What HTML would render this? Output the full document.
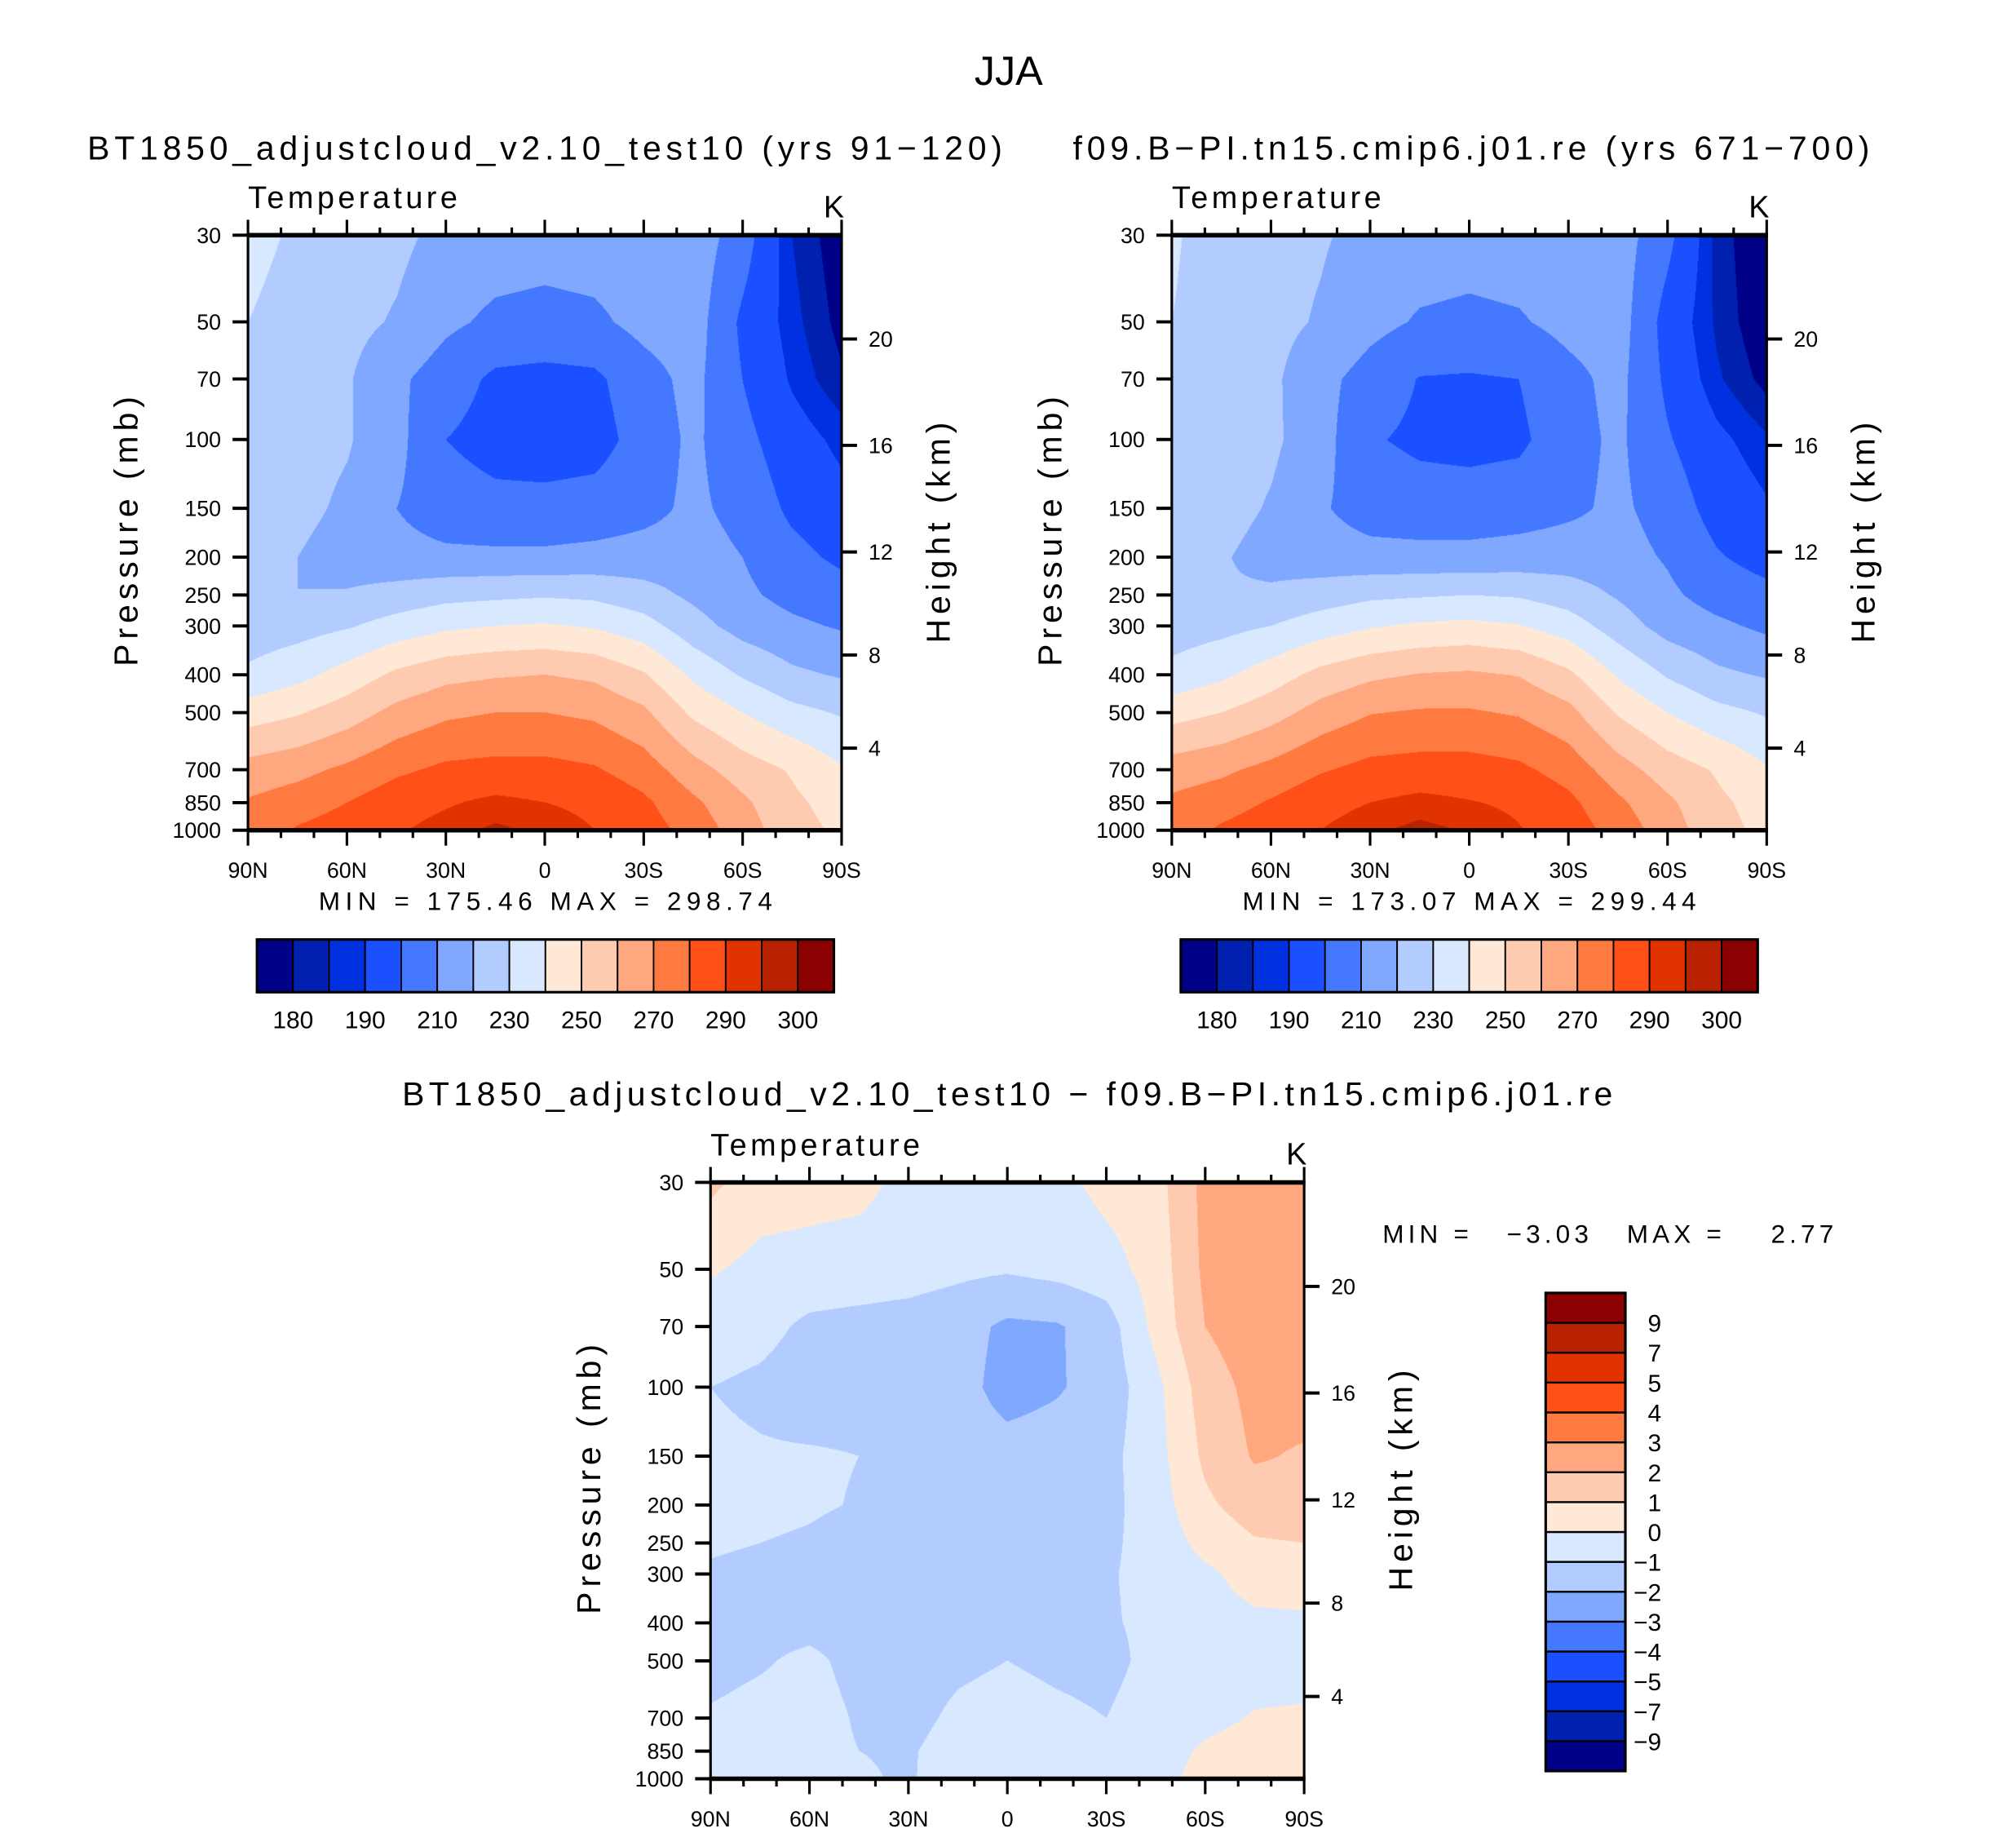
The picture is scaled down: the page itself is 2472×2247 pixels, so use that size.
<!DOCTYPE html>
<html><head><meta charset="utf-8"><style>
html,body{margin:0;padding:0;background:#fff;}
#page{position:relative;width:2472px;height:2247px;overflow:hidden;background:#fff;}
#inner{position:absolute;left:0;top:0;width:1569px;height:1426px;transform:scale(1.5755);transform-origin:0 0;}
canvas{position:absolute;}
svg{position:absolute;left:0;top:0;}
text{font-family:"Liberation Sans",sans-serif;fill:#000;}
</style></head><body>
<div id="page">
<div id="inner">
<canvas id="cvL" width="740" height="742" style="left:193px;top:183px;width:462px;height:463px"></canvas>
<canvas id="cvR" width="740" height="742" style="left:912px;top:183px;width:463px;height:463px"></canvas>
<canvas id="cvD" width="740" height="742" style="left:553px;top:920px;width:462px;height:464px"></canvas>
<svg id="ov" width="1569" height="1426" viewBox="0 0 1569 1426">
<text x="785" y="66" font-size="32" text-anchor="middle">JJA</text>
<text x="68" y="124" font-size="26" textLength="712">BT1850_adjustcloud_v2.10_test10 (yrs 91−120)</text>
<text x="835" y="124" font-size="26" textLength="620">f09.B−PI.tn15.cmip6.j01.re (yrs 671−700)</text>
<text x="313" y="860" font-size="26" textLength="942">BT1850_adjustcloud_v2.10_test10 − f09.B−PI.tn15.cmip6.j01.re</text>
<text x="248" y="708" font-size="20" textLength="353">MIN = 175.46  MAX = 298.74</text>
<text x="967" y="708" font-size="20" textLength="353">MIN = 173.07  MAX = 299.44</text>
<text x="1076" y="967" font-size="20" textLength="351" xml:space="preserve">MIN =   −3.03   MAX =    2.77</text>
</svg>
</div></div>
<script>
const lats = [90,75,60,45,30,15,0,-15,-30,-45,-60,-75,-90];
const pLevels = [30,50,70,100,150,200,250,300,400,500,700,850,1000];
const tempLevels = [180,185,190,200,210,220,230,240,250,260,270,280,290,295,300];
const tempTickLabels = ['180','190','210','230','250','270','290','300'];
const diffLevels = [-9,-7,-5,-4,-3,-2,-1,0,1,2,3,4,5,7,9];
const diffTickLabels = ['−9','−7','−5','−4','−3','−2','−1','0','1','2','3','4','5','7','9'];
const latTickLabels = ['90N','60N','30N','0','30S','60S','90S'];
const pressureTicks = [30,50,70,100,150,200,250,300,400,500,700,850,1000];
const heightTicks = [4,8,12,16,20];
const heightTickPressures = [616.4,356.0,194.0,103.5,55.3];
const palette = ['#000088','#0020b0','#0030e0','#1a50ff','#4478ff','#80a8ff','#b3ccff','#d8e8ff','#ffe8d6','#ffcbb0','#ffa880','#ff7a40','#ff5018','#e03300','#b82200','#8b0000'];

const fieldLeft = [
[233,228.5,224,222.5,217,215,214,215,216,216,205,185,176],
[230,226,223,219,212,208,207,208,213,215,198,187,178],
[227,225,221,212,205,198,197,198,206,213,200,189,181],
[226,224,221,213,200,196,195,196,204,212,203,194,188],
[225,223,218,210,205,203,203,204,207,212,207,198,193],
[223,220,215,213,212,212,212,213,214,214,210,203,198],
[222,220,221,224,227,228,229,228,224,218,212,207,204],
[224,226,229,234,238,240,241,239,234,224,216,212,209],
[232,237,244,252,257,259,260,258,251,238,229,222,219],
[245,249,255,263,268,270,270,268,262,248,240,233,229],
[264,267,272,278,282,283,283,281,275,264,255,249,241],
[271,275,280,286,289,292,290,288,282,272,262,252,246],
[274,281,285,289,293,296,294,290,285,276,265,254,248]];
const fieldRight = [
[231,226,223,221,217,215,214,215,216,215,203,183,174],
[230,226,223,219,213,209,208,209,213,215,196,184,175],
[227,226,222,213,206,199.5,199,200,207,213,198,186,178],
[227,225,222,214,201,198,197,198,206,212,201,192,186],
[226,224,219,211,206,204.5,204.5,205.5,208,212,206,196,191],
[224,221,216,214,213,213,213,214,215,214,209,201,196],
[223,221,222,225,228,229,230,229,225,219,212,206,203],
[225,227,230,235,239,241.5,242.5,240.5,235,225,216,212,208],
[233,238,245,253,258,260.5,261.5,259.5,252,239,229,222,219],
[246,250,256,264,269.5,271,271,269,263,249,240,233,229],
[265,268,273,279,283,284,284,282,276,264.5,255,249,241],
[272,275.5,281,287,290,292.5,290.5,288.5,282.5,272,262,252,246],
[274.5,281.5,286,290,294,296.5,294.5,290.5,285.5,276,265,253.5,247.5]];
const fieldDiff = [
[1.2,0.5,0.4,0.3,-0.3,-0.5,-0.5,-0.3,0.3,0.6,2.3,2.5,2.5],
[0.1,-0.3,-0.4,-0.5,-0.6,-0.8,-0.9,-0.7,-0.4,0.4,2.2,2.6,2.7],
[-0.5,-0.7,-1.2,-1.3,-1.4,-1.6,-2.2,-2.1,-1.5,0.3,2.0,2.6,2.7],
[-1.0,-1.2,-1.5,-1.4,-1.3,-1.6,-2.4,-2.1,-1.6,-0.3,1.5,2.3,2.4],
[-0.8,-0.9,-0.9,-1.0,-1.3,-1.5,-1.6,-1.5,-1.3,-0.4,1.2,2.1,1.9],
[-0.7,-0.8,-0.9,-1.05,-1.4,-1.5,-1.5,-1.5,-1.3,-0.5,0.8,1.5,1.6],
[-0.9,-1.0,-1.1,-1.3,-1.5,-1.5,-1.5,-1.5,-1.2,-0.6,0.3,0.9,1.0],
[-1.1,-1.2,-1.3,-1.4,-1.5,-1.5,-1.5,-1.5,-1.1,-0.7,-0.2,0.4,0.6],
[-1.3,-1.3,-1.3,-1.4,-1.5,-1.5,-1.5,-1.4,-1.1,-0.8,-0.4,-0.2,-0.2],
[-1.3,-1.1,-0.8,-1.3,-1.5,-1.2,-1.0,-1.2,-1.3,-0.7,-0.4,-0.3,-0.3],
[-0.9,-0.7,-0.6,-1.1,-1.3,-0.8,-0.6,-0.8,-1.0,-0.5,-0.2,0.05,0.1],
[-0.6,-0.5,-0.7,-1.0,-1.1,-0.6,-0.4,-0.4,-0.4,-0.3,0.1,0.3,0.2],
[-0.5,-0.6,-0.8,-0.9,-1.1,-0.5,-0.3,-0.3,-0.3,-0.2,0.2,0.3,0.3]];

const NS='http://www.w3.org/2000/svg';
const svg=document.getElementById('ov');
function el(tag,attrs,parent){const e=document.createElementNS(NS,tag);for(const k in attrs)e.setAttribute(k,attrs[k]);(parent||svg).appendChild(e);return e;}
function levelIndex(v,levels){let i=0;while(i<levels.length&&v>=levels[i])i++;return i;}
function hexToRgb(h){return [parseInt(h.substr(1,2),16),parseInt(h.substr(3,2),16),parseInt(h.substr(5,2),16)];}
const rgbs=palette.map(hexToRgb);
const lnTop=Math.log(pLevels[0]), lnBot=Math.log(pLevels[pLevels.length-1]);

function drawField(id,field,levels){
  const cv=document.getElementById(id);const W=cv.width,H=cv.height;
  const ctx=cv.getContext('2d');const img=ctx.createImageData(W,H);
  const lnP=pLevels.map(Math.log);
  for(let py=0;py<H;py++){
    const lp=lnTop+(py/(H-1))*(lnBot-lnTop);
    let j=0;while(j<lnP.length-2&&lp>lnP[j+1])j++;
    const ty=Math.min(1,Math.max(0,(lp-lnP[j])/(lnP[j+1]-lnP[j])));
    for(let px=0;px<W;px++){
      const fx=px/(W-1)*(lats.length-1);let i=Math.min(lats.length-2,Math.floor(fx));const tx=fx-i;
      const v=(1-ty)*((1-tx)*field[j][i]+tx*field[j][i+1])+ty*((1-tx)*field[j+1][i]+tx*field[j+1][i+1]);
      const c=rgbs[levelIndex(v,levels)];const o=(py*W+px)*4;
      img.data[o]=c[0];img.data[o+1]=c[1];img.data[o+2]=c[2];img.data[o+3]=255;
    }
  }
  ctx.putImageData(img,0,0);
}
drawField('cvL',fieldLeft,tempLevels);
drawField('cvR',fieldRight,tempLevels);
drawField('cvD',fieldDiff,diffLevels);

function drawAxes(x0,y0,w,h,prefix){
  const g=el('g',{});
  
  
  const yOf=p=>y0+(Math.log(p)-lnTop)/(lnBot-lnTop)*h;
  const xOf=lat=>x0+(90-lat)/180*w;
  el('line',{x1:x0,y1:y0,x2:x0,y2:y0+h,stroke:'#000','stroke-width':2},g);
  el('line',{x1:x0+w,y1:y0,x2:x0+w,y2:y0+h,stroke:'#000','stroke-width':2},g);
  el('line',{x1:x0-1,y1:y0,x2:x0+w+1,y2:y0,stroke:'#000','stroke-width':3.5},g);
  el('line',{x1:x0-1,y1:y0+h,x2:x0+w+1,y2:y0+h,stroke:'#000','stroke-width':3.5},g);
  for(let lat=90;lat>=-90;lat-=10){
    const x=xOf(lat);const major=(lat%30===0);const L=major?12:6;
    el('line',{x1:x,y1:y0,x2:x,y2:y0-L,stroke:'#000','stroke-width':2},g);
    el('line',{x1:x,y1:y0+h,x2:x,y2:y0+h+L,stroke:'#000','stroke-width':2},g);
  }
  latTickLabels.forEach((lb,k)=>{
    const t=el('text',{x:xOf(90-30*k),y:y0+h+37,'font-size':17,'text-anchor':'middle'},g);t.textContent=lb;
    
    
  });
  pressureTicks.forEach(p=>{
    const y=yOf(p);
    el('line',{x1:x0,y1:y,x2:x0-12,y2:y,stroke:'#000','stroke-width':2.5},g);
    const t=el('text',{x:x0-21,y:y+6,'font-size':17,'text-anchor':'end'},g);t.textContent=p;
    
    
  });
  heightTicks.forEach((z,k)=>{
    const y=yOf(heightTickPressures[k]);
    el('line',{x1:x0+w,y1:y,x2:x0+w+12,y2:y,stroke:'#000','stroke-width':2.5},g);
    const t=el('text',{x:x0+w+21,y:y+6,'font-size':17},g);t.textContent=z;
    
    
  });
  const yl=el('text',{x:0,y:0,'font-size':26,'text-anchor':'middle',textLength:210,transform:'translate('+(x0-86)+','+(y0+h/2-1)+') rotate(-90)'},g);
  yl.textContent='Pressure  (mb)';
  
  
  const yr=el('text',{x:0,y:0,'font-size':26,'text-anchor':'middle',textLength:172,transform:'translate('+(x0+w+84)+','+(y0+h/2)+') rotate(-90)'},g);
  yr.textContent='Height  (km)';
  
  
  const tt=el('text',{x:x0,y:y0-21,'font-size':24,textLength:163},g);tt.textContent='Temperature';
  
  
  const tk=el('text',{x:x0+w-14,y:y0-14,'font-size':24},g);tk.textContent='K';
  
  
}
drawAxes(193,183,462,463,'left');
drawAxes(912,183,463,463,'right');
drawAxes(553,920,462,464,'diff');

function hColorbar(x0,y0,w,h,prefix){
  const g=el('g',{});
  
  
  const bw=w/palette.length;
  palette.forEach((c,i)=>{
    const r=el('rect',{x:x0+i*bw,y:y0,width:bw,height:h,fill:c,stroke:'#000','stroke-width':1.2},g);
    
    
  });
  el('rect',{x:x0,y:y0,width:w,height:h,fill:'none',stroke:'#000','stroke-width':2},g);
  tempTickLabels.forEach((lb,k)=>{
    const t=el('text',{x:x0+(1+2*k)*bw,y:y0+h+28,'font-size':19,'text-anchor':'middle'},g);t.textContent=lb;
    
    
  });
}
hColorbar(200,731,449,41,'left');
hColorbar(919,731,449,41,'right');

(function(){
  const x0=1203,y0=1006,w=62,h=372;
  const g=el('g',{});
  
  
  const bh=h/palette.length;
  palette.forEach((c,i)=>{
    const r=el('rect',{x:x0,y:y0+h-(i+1)*bh,width:w,height:bh,fill:c,stroke:'#000','stroke-width':1.5},g);
    
    
  });
  el('rect',{x:x0,y:y0,width:w,height:h,fill:'none',stroke:'#000','stroke-width':2},g);
  diffTickLabels.forEach((lb,k)=>{
    const t=el('text',{x:1293,y:y0+h-(k+1)*bh+7,'font-size':19,'text-anchor':'end'},g);t.textContent=lb;
    
    
  });
})();
</script>
</body></html>
